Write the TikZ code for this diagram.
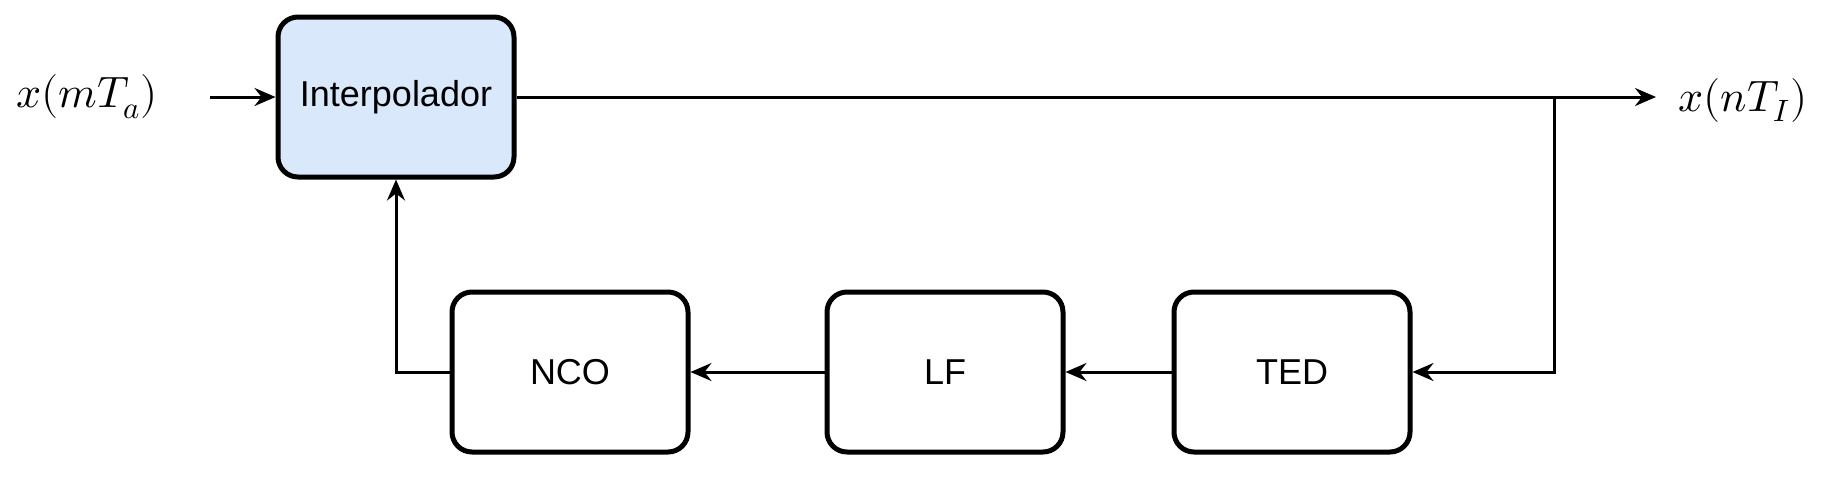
\documentclass[tikz,border=0pt]{standalone}
\usepackage{fontspec}
\setmainfont{Liberation Sans}
\usepackage{unicode-math}
\setmathfont{Latin Modern Math}
\usetikzlibrary{arrows.meta}
\definecolor{interfill}{HTML}{DAE8FC}
\tikzset{
  blockbox/.style={draw=black, line width=2.5pt, rounded corners=10pt, minimum width=118pt, minimum height=80pt, inner sep=0pt, font=\fontsize{18}{21}\selectfont},
  conn/.style={line width=1.5pt, -{Stealth[length=10.5pt,width=9pt,inset=3.5pt]}},
  mathlbl/.style={inner sep=0pt, font=\fontsize{22}{26}\selectfont}
}
\begin{document}
\begin{tikzpicture}[x=0.5pt,y=-0.5pt]
\useasboundingbox (0,0) rectangle (1827,478);
\node[blockbox, fill=interfill] (interp) at (396,97) {Interpolador};
\node[blockbox] (nco) at (570,372) {NCO};
\node[blockbox] (lf) at (945,372) {LF};
\node[blockbox] (ted) at (1292,372) {TED};
\node[mathlbl] (xin) at (87,97) {$x(mT_a)$};
\node[mathlbl] (xout) at (1743,100) {$x(nT_I)$};
\coordinate (inS) at (210,97);
\coordinate (outE) at (1656,97);
\coordinate (br) at (1554,97);
\coordinate (fb) at (396,372);
\draw[conn] (inS) -- (interp.west);
\draw[conn] (interp.east) -- (outE);
\draw[conn] (br) |- (ted.east);
\draw[conn] (ted.west) -- (lf.east);
\draw[conn] (lf.west) -- (nco.east);
\draw[conn] (nco.west) -- (fb) -- (interp.south);
\end{tikzpicture}
\end{document}
